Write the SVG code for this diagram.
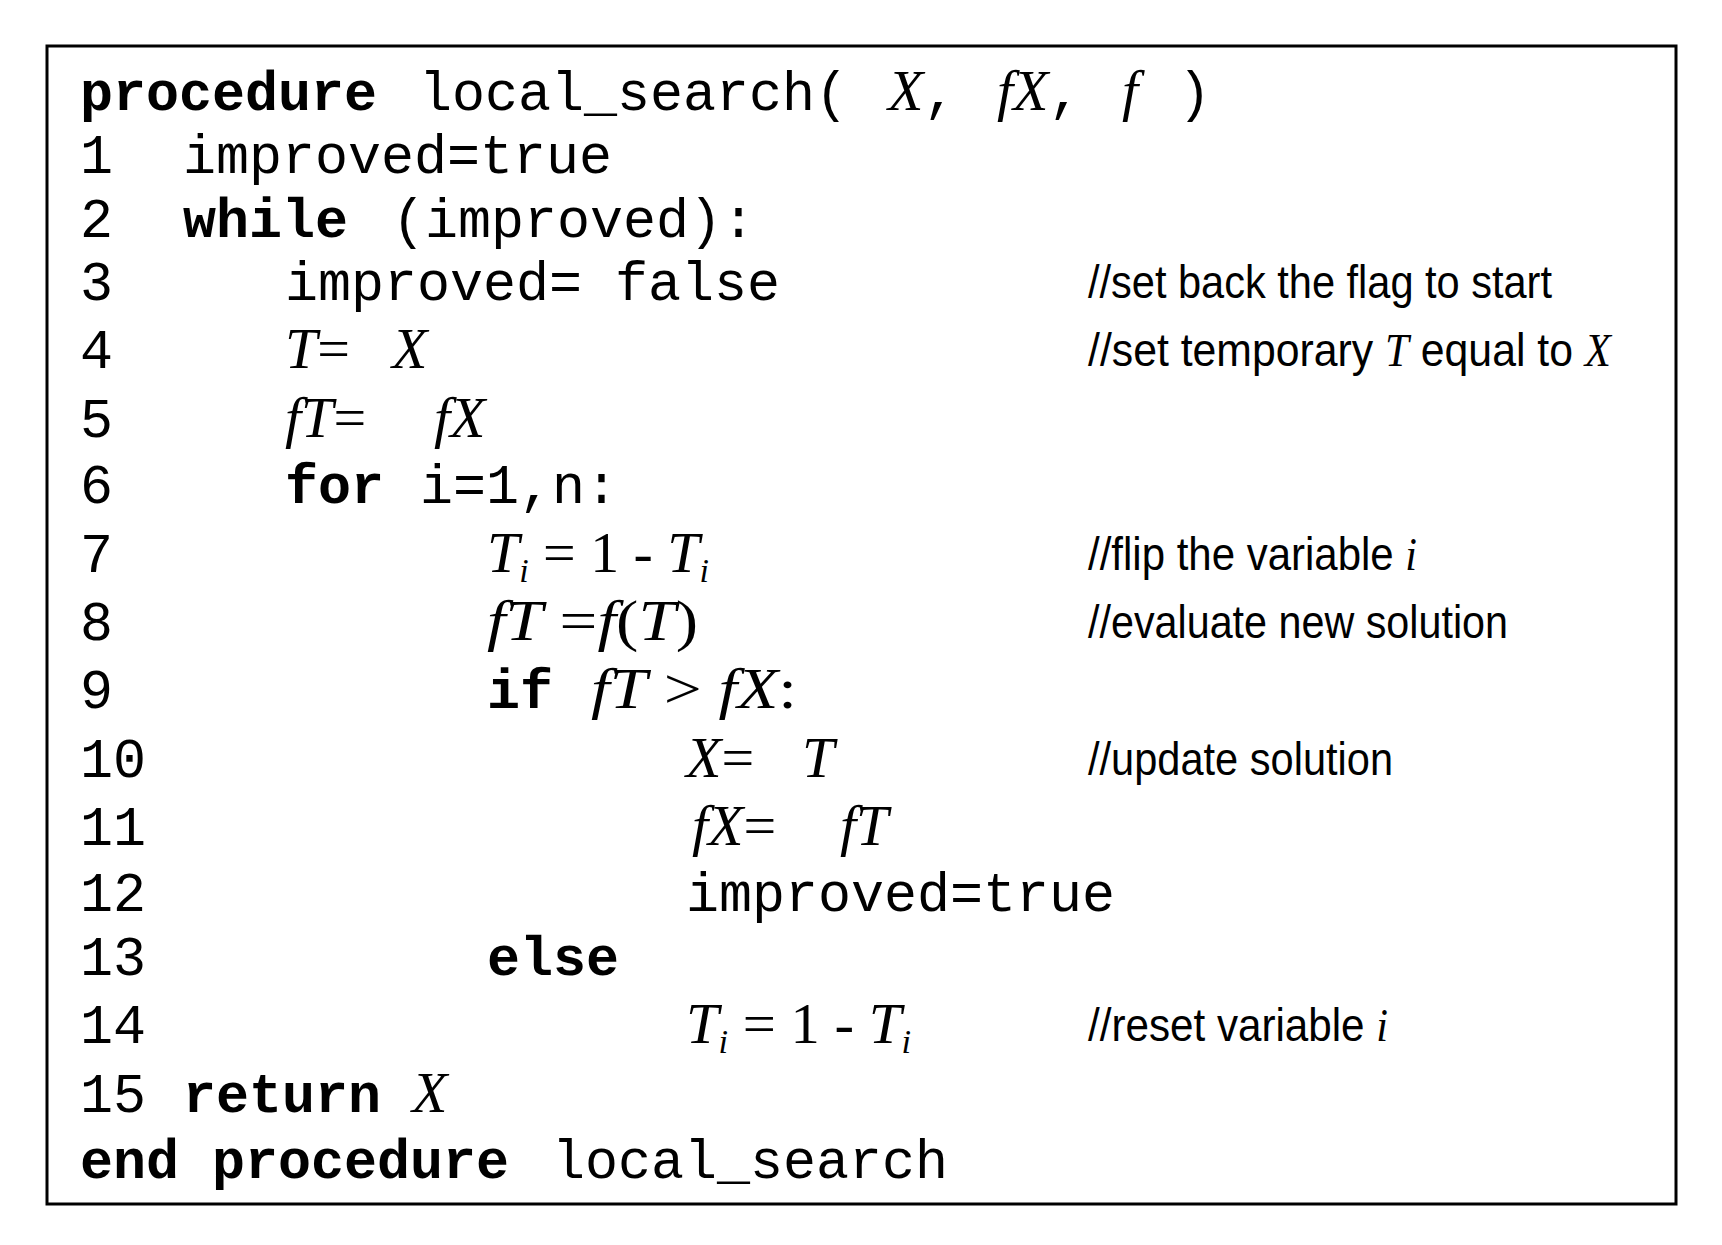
<svg xmlns="http://www.w3.org/2000/svg" width="1722" height="1245" viewBox="0 0 1722 1245">
<style>
.m{font-family:"Liberation Mono",monospace;font-size:55px;fill:#000}
.b{font-weight:bold}
.s{font-family:"Liberation Serif",serif;font-size:58px;font-style:italic;fill:#000}
.r{font-style:normal}
.c{font-family:"Liberation Sans",sans-serif;font-size:46px;fill:#000}
.ci{font-family:"Liberation Serif",serif;font-style:italic}
</style>
<rect x="47" y="46" width="1629" height="1158" fill="#fff" stroke="#000" stroke-width="3"/>
<g id="code" xml:space="preserve">
<text class="m b" x="80" y="110">procedure</text><text class="m" x="419" y="110">local_search(</text>
<text class="s" x="888" y="110">X<tspan class="r m">,</tspan></text><text class="s" x="997" y="110">fX<tspan class="r m">,</tspan></text><text class="s" x="1122" y="110">f</text><text class="m" x="1178" y="110">)</text>
<text class="m" x="80" y="173">1</text><text class="m" x="183" y="173">improved=true</text>
<text class="m" x="80" y="237">2</text><text class="m b" x="183" y="237">while</text><text class="m" x="392" y="237">(improved):</text>
<text class="m" x="80" y="300">3</text><text class="m" x="285" y="300">improved= false</text>
<text class="m" x="80" y="368">4</text><text class="s" x="285" y="368">T<tspan class="r">=</tspan></text><text class="s" x="392" y="368">X</text>
<text class="m" x="80" y="437">5</text><text class="s" x="285" y="437">fT<tspan class="r">=</tspan></text><text class="s" x="434" y="437">fX</text>
<text class="m" x="80" y="503">6</text><text class="m b" x="285" y="503">for</text><text class="m" x="420" y="503">i=1,n:</text>
<text class="m" x="80" y="572">7</text><text class="s" x="487" y="572" textLength="222" lengthAdjust="spacingAndGlyphs">T<tspan font-size="34" dy="10">i</tspan><tspan class="r" dy="-10"> = 1 - </tspan>T<tspan font-size="34" dy="10">i</tspan></text>
<text class="m" x="80" y="640">8</text><text class="s" x="487" y="640" textLength="211" lengthAdjust="spacingAndGlyphs">fT<tspan class="r"> =</tspan>f<tspan class="r">(</tspan>T<tspan class="r">)</tspan></text>
<text class="m" x="80" y="708">9</text><text class="m b" x="487" y="708">if</text><text class="s" x="591" y="708" textLength="206" lengthAdjust="spacingAndGlyphs">fT<tspan class="r"> &gt; </tspan>fX<tspan class="r">:</tspan></text>
<text class="m" x="80" y="777">10</text><text class="s" x="686" y="777">X<tspan class="r">=</tspan></text><text class="s" x="802" y="777">T</text>
<text class="m" x="80" y="845">11</text><text class="s" x="692" y="845">fX<tspan class="r">=</tspan></text><text class="s" x="840" y="845">fT</text>
<text class="m" x="80" y="911">12</text><text class="m" x="686" y="911">improved=true</text>
<text class="m" x="80" y="975">13</text><text class="m b" x="487" y="975">else</text>
<text class="m" x="80" y="1043">14</text><text class="s" x="686" y="1043" textLength="225" lengthAdjust="spacingAndGlyphs">T<tspan font-size="34" dy="10">i</tspan><tspan class="r" dy="-10"> = 1 - </tspan>T<tspan font-size="34" dy="10">i</tspan></text>
<text class="m" x="80" y="1112">15</text><text class="m b" x="183" y="1112">return</text><text class="s" x="412" y="1112">X</text>
<text class="m b" x="80" y="1178">end procedure</text><text class="m" x="552" y="1178">local_search</text>
</g>
<g id="comments">
<text class="c" x="1088" y="298" textLength="464" lengthAdjust="spacingAndGlyphs">//set back the flag to start</text>
<text class="c" x="1088" y="366" textLength="523" lengthAdjust="spacingAndGlyphs">//set temporary <tspan class="ci">T</tspan> equal to <tspan class="ci">X</tspan></text>
<text class="c" x="1088" y="570" textLength="329" lengthAdjust="spacingAndGlyphs">//flip the variable <tspan class="ci">i</tspan></text>
<text class="c" x="1088" y="638" textLength="420" lengthAdjust="spacingAndGlyphs">//evaluate new solution</text>
<text class="c" x="1088" y="775" textLength="305" lengthAdjust="spacingAndGlyphs">//update solution</text>
<text class="c" x="1088" y="1041" textLength="300" lengthAdjust="spacingAndGlyphs">//reset variable <tspan class="ci">i</tspan></text>
</g>
</svg>
